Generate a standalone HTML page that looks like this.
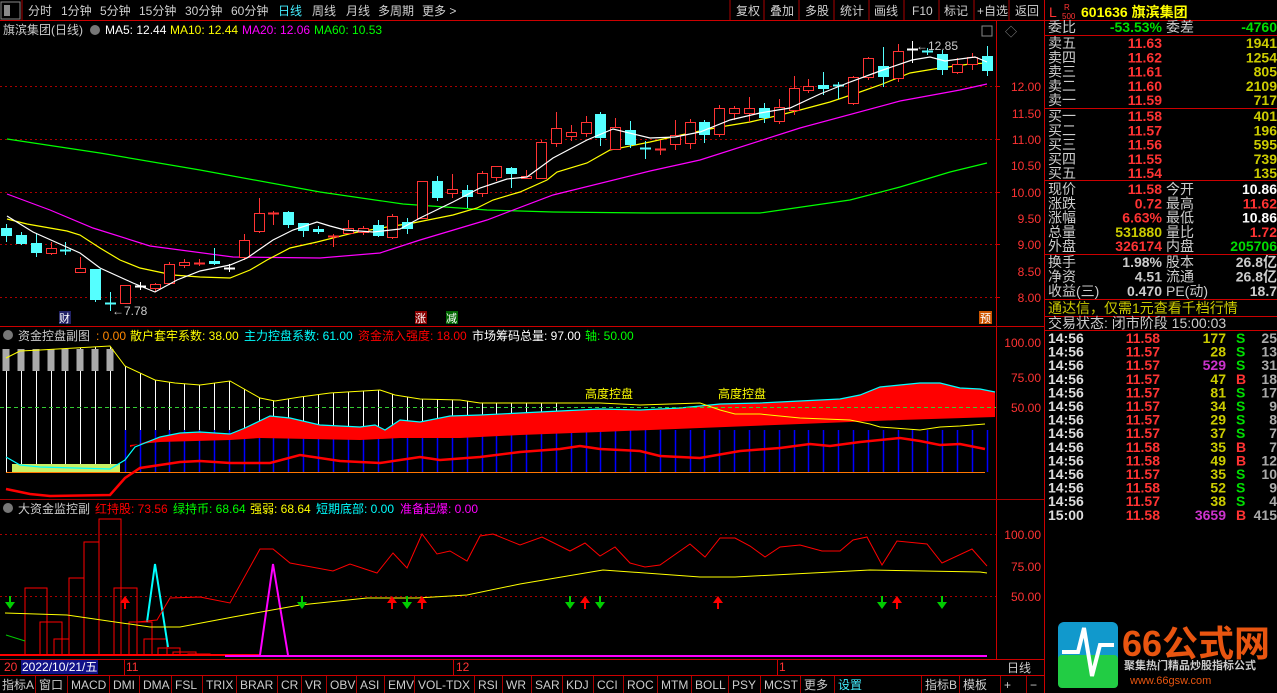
<!DOCTYPE html>
<html><head><meta charset="utf-8">
<style>
html,body{margin:0;padding:0;background:#000;width:1277px;height:693px;overflow:hidden}
svg{display:block;font-family:"Liberation Sans","Noto Sans CJK SC",sans-serif}
</style></head><body>
<svg id="s" width="1277" height="693" viewBox="0 0 1277 693" xmlns="http://www.w3.org/2000/svg">
<rect width="1277" height="693" fill="#000"/>
<g font-size="12" fill="#d0d0d0">
<rect x="1" y="2" width="19" height="17" fill="none" stroke="#888"/><rect x="4" y="5" width="6" height="11" fill="#888"/>
<line x1="22" y1="0" x2="22" y2="20" stroke="#a00"/>
<text x="28" y="15">分时</text><text x="61" y="15">1分钟</text><text x="100" y="15">5分钟</text><text x="139" y="15">15分钟</text><text x="185" y="15">30分钟</text><text x="231" y="15">60分钟</text><text x="278" y="15" fill="#4ef">日线</text><text x="312" y="15">周线</text><text x="346" y="15">月线</text><text x="378" y="15">多周期</text><text x="422" y="15">更多 &gt;</text>
<text x="736" y="15">复权</text><text x="770" y="15">叠加</text><text x="805" y="15">多股</text><text x="840" y="15">统计</text><text x="874" y="15">画线</text><text x="912" y="15">F10</text><text x="944" y="15">标记</text><text x="977" y="15">+自选</text><text x="1015" y="15">返回</text>
</g>
<g stroke="#a00"><line x1="730" y1="0" x2="730" y2="20"/><line x1="764" y1="0" x2="764" y2="20"/><line x1="799" y1="0" x2="799" y2="20"/><line x1="834" y1="0" x2="834" y2="20"/><line x1="869" y1="0" x2="869" y2="20"/><line x1="904" y1="0" x2="904" y2="20"/><line x1="939" y1="0" x2="939" y2="20"/><line x1="974" y1="0" x2="974" y2="20"/><line x1="1009" y1="0" x2="1009" y2="20"/></g>
<line x1="0" y1="20.5" x2="1044" y2="20.5" stroke="#c00"/>
<g font-size="12">
<text x="3" y="34" fill="#ccc">旗滨集团(日线)</text><circle cx="95" cy="30" r="5" fill="#777"/>
<text x="105" y="34" fill="#fff">MA5: 12.44</text><text x="170" y="34" fill="#ff0">MA10: 12.44</text><text x="242" y="34" fill="#f0f">MA20: 12.06</text><text x="314" y="34" fill="#0f0">MA60: 10.53</text>
</g>
<g stroke="#a00" stroke-dasharray="2,3"><line x1="0" y1="86.5" x2="996" y2="86.5"/><line x1="0" y1="139.5" x2="996" y2="139.5"/><line x1="0" y1="192.5" x2="996" y2="192.5"/><line x1="0" y1="244.5" x2="996" y2="244.5"/><line x1="0" y1="297.5" x2="996" y2="297.5"/></g>
<line x1="996.5" y1="20" x2="996.5" y2="660" stroke="#c00"/>
<line x1="1044.5" y1="0" x2="1044.5" y2="693" stroke="#c00"/>
<g font-size="12" fill="#f33" text-anchor="end">
<text x="1041" y="91">12.00</text><text x="1041" y="118">11.50</text><text x="1041" y="144">11.00</text><text x="1041" y="170">10.50</text><text x="1041" y="197">10.00</text><text x="1041" y="223">9.50</text><text x="1041" y="249">9.00</text><text x="1041" y="276">8.50</text><text x="1041" y="302">8.00</text>
<text x="1041" y="347">100.00</text><text x="1041" y="382">75.00</text><text x="1041" y="412">50.00</text>
<text x="1041" y="539">100.00</text><text x="1041" y="571">75.00</text><text x="1041" y="601">50.00</text>
</g>
<g stroke="#c00"><line x1="996" y1="86.5" x2="1000" y2="86.5"/><line x1="996" y1="139.5" x2="1000" y2="139.5"/><line x1="996" y1="192.5" x2="1000" y2="192.5"/><line x1="996" y1="244.5" x2="1000" y2="244.5"/><line x1="996" y1="297.5" x2="1000" y2="297.5"/></g>
<line x1="0" y1="326.5" x2="1044" y2="326.5" stroke="#c00"/>
<line x1="0" y1="499.5" x2="1044" y2="499.5" stroke="#a00"/>
<line x1="0" y1="659.5" x2="1044" y2="659.5" stroke="#c00"/>
<g fill="none" stroke-width="1.2">
<polyline stroke="#0f0" points="7,139 100,153 200,170 320,192 403,204 487,210 553,212 650,213 760,213 850,200 900,187 950,172 987,163"/>
<polyline stroke="#f0f" points="7,194 50,210 93,228 150,246 233,257 320,258 380,253 420,240 487,220 553,195 650,171 700,160 800,128 900,101 960,90 987,84"/>
<polyline stroke="#ff0" points="7,219 27,224 67,231 80,235 100,248 120,260 140,268 173,275 200,277 230,278 250,270 267,260 290,248 317,242 353,233 387,227 413,223 453,215 477,208 493,200 520,192 547,180 557,172 587,163 610,150 650,142 690,133 720,127 750,122 780,115 800,110 830,102 860,92 880,85 910,73 940,68 970,64 987,63"/>
</g>
<g id="cand"></g>
<polyline fill="none" stroke="#fff" stroke-width="1.2" points="7,216 33,232 80,253 100,268 133,283 155,292 177,280 200,271 230,265 247,258 273,240 293,230 317,222 330,226 345,230 373,232 400,229 420,218 453,202 480,188 507,179 527,177 553,158 587,140 613,129 650,138 675,137 700,132 730,120 760,113 790,108 820,94 850,82 880,71 912,60 930,57 945,61 975,57 987,62"/>
<g font-size="12">
<text x="112" y="315" fill="#ccc">←7.78</text><text x="916" y="50" fill="#ccc">←12.85</text>
<rect x="59" y="311" width="12" height="13" fill="#226"/><text x="59" y="322" fill="#fff" font-size="11">财</text>
<rect x="415" y="311" width="12" height="13" fill="#800"/><text x="415" y="322" fill="#fff" font-size="11">涨</text>
<rect x="446" y="311" width="12" height="13" fill="#060"/><text x="446" y="322" fill="#fff" font-size="11">减</text>
<rect x="979" y="311" width="13" height="13" fill="#c50"/><text x="980" y="322" fill="#fff" font-size="11">预</text>
<text x="1005" y="36" fill="#888">◇</text><rect x="982" y="26" width="10" height="10" fill="none" stroke="#888"/>
</g>
<g font-size="12">
<circle cx="8" cy="335" r="5" fill="#777"/><text x="18" y="340" fill="#ccc">资金控盘副图</text>
<text x="96" y="340" fill="#f80">: 0.00</text><text x="130" y="340" fill="#ff0">散户套牢系数: 38.00</text><text x="244" y="340" fill="#0ff">主力控盘系数: 61.00</text><text x="358" y="340" fill="#f00">资金流入强度: 18.00</text><text x="472" y="340" fill="#fff">市场筹码总量: 97.00</text><text x="585" y="340" fill="#0f0">轴: 50.00</text>
</g>
<g id="p2"></g>
<rect x="12" y="464" width="108" height="9" fill="#c8f064"/>
<polygon fill="#f00" points="130,447 160,437 180,433 200,432 230,434 245,428 270,416 290,418 320,425 360,427 375,425 385,430 400,420 420,422 450,416 480,415 520,413 560,411 600,409 640,410 680,408 700,406 720,404 760,403 800,401 840,399 860,395 880,387 900,385 920,383 940,383 960,388 980,389 995,392 995,417 900,420 800,424 700,428 600,432 520,435 460,438 400,438 360,440 260,438 230,440 160,442 130,445"/>
<polyline fill="none" stroke="#0ff" stroke-width="1.2" points="6,457 20,465 40,467 110,469 125,460 135,447 160,437 180,433 200,432 230,434 245,428 270,416 290,418 320,425 360,427 375,425 385,430 400,420 420,422 450,416 480,415 520,413 560,411 600,409 640,410 680,408 700,406 720,404 760,403 800,401 840,399 860,395 880,387 900,385 920,383 940,383 960,388 980,389 995,392"/>
<line x1="0" y1="407.5" x2="996" y2="407.5" stroke="#3c3" stroke-dasharray="4,3"/>
<polyline fill="none" stroke="#ff0" points="6,358 20,351 40,350 110,346 125,366 155,380 175,383 200,385 230,381 260,398 275,401 300,397 330,393 380,390 395,395 420,399 460,400 480,403 600,403 640,405 700,403 720,410 735,414 760,414 800,418 850,420 870,424 880,427 920,430 940,427 960,426 985,424"/>
<line x1="6" y1="472.5" x2="985" y2="472.5" stroke="#f70"/>
<polyline fill="none" stroke="#f00" stroke-width="2.5" points="6,489 30,494 50,496 110,495 125,478 140,468 180,462 200,461 230,463 270,463 300,455 340,461 380,463 400,460 420,457 440,460 480,457 520,452 560,449 580,446 600,449 640,451 660,456 700,458 740,451 780,448 810,444 830,446 860,442 900,438 920,441 940,445 960,444 985,449"/>
<text x="585" y="398" font-size="12" fill="#ff0">高度控盘</text><text x="718" y="398" font-size="12" fill="#ff0">高度控盘</text>
<g font-size="12">
<circle cx="8" cy="508" r="5" fill="#777"/><text x="18" y="513" fill="#ccc">大资金监控副</text>
<text x="95" y="513" fill="#f00">红持股: 73.56</text><text x="173" y="513" fill="#0f0">绿持币: 68.64</text><text x="250" y="513" fill="#ff0">强弱: 68.64</text><text x="316" y="513" fill="#0ff">短期底部: 0.00</text><text x="400" y="513" fill="#f0f">准备起爆: 0.00</text>
</g>
<g stroke="#a00" stroke-dasharray="2,3"><line x1="0" y1="534.5" x2="996" y2="534.5"/><line x1="0" y1="596.5" x2="996" y2="596.5"/></g>
<g fill="none" stroke="#f00">
<rect x="25" y="588" width="22" height="67"/><rect x="40" y="622" width="22" height="33"/><rect x="54" y="639" width="15" height="16"/><rect x="69" y="578" width="15" height="77"/><rect x="84" y="542" width="15" height="113"/><rect x="99" y="519" width="22" height="136"/><rect x="114" y="588" width="23" height="67"/><rect x="129" y="622" width="23" height="33"/><rect x="144" y="639" width="23" height="16"/><rect x="158" y="648" width="22" height="7"/><rect x="173" y="652" width="23" height="3"/><rect x="188" y="654" width="22" height="1"/>
</g>
<line x1="0" y1="655" x2="260" y2="655" stroke="#f00" stroke-width="2"/>
<line x1="225" y1="656" x2="987" y2="656" stroke="#f0f" stroke-width="2"/>
<polyline fill="none" stroke="#0ff" stroke-width="2" points="147,622 155,564 168,647"/>
<polyline fill="none" stroke="#f0f" stroke-width="2" points="260,655 273,564 288,655"/>
<polyline fill="none" stroke="#0c0" points="6,635 25,641"/>
<polyline fill="none" stroke="#ff0" points="5,613 67,615 150,627 180,627 233,617 300,605 367,598 417,598 467,595 520,584 603,570 700,577 735,577 870,570 980,572 987,573"/>
<polyline fill="none" stroke="#f00" points="137,622 157,620 170,598 200,597 230,603 260,549 273,549 290,563 333,571 350,564 377,573 393,553 407,568 422,534 437,554 450,551 467,561 480,536 493,534 520,545 542,537 570,551 585,543 600,556 615,547 630,563 645,567 660,565 690,544 705,557 720,538 735,538 750,546 765,557 780,547 800,545 822,551 840,551 853,540 867,537 882,565 897,541 927,544 942,563 972,549 987,566"/>
<g id="arr"></g>
<g font-size="12">
<text x="4" y="671" fill="#f33">20</text><rect x="21" y="660" width="77" height="14" fill="#118"/><text x="22" y="671" fill="#fff">2022/10/21/五</text>
<text x="126" y="671" fill="#f33">11</text><text x="456" y="671" fill="#f33">12</text><text x="779" y="671" fill="#f33">1</text><text x="1007" y="672" fill="#ccc">日线</text>
</g>
<g stroke="#c00"><line x1="124.5" y1="660" x2="124.5" y2="675"/><line x1="453.5" y1="660" x2="453.5" y2="675"/><line x1="777.5" y1="660" x2="777.5" y2="675"/></g>
<line x1="0" y1="675.5" x2="1044" y2="675.5" stroke="#c00"/>
<g font-size="12" fill="#ccc" id="tabs"></g>
<g font-size="14" font-weight="bold">
<text x="1049" y="17" fill="#f33" font-weight="normal">L</text><text x="1064" y="10" font-size="8" fill="#f33" font-weight="normal">R</text><text x="1062" y="19" font-size="8" fill="#f33" font-weight="normal">500</text>
<text x="1081" y="17" fill="#ff0" font-size="14">601636 旗滨集团</text>
</g>
<g stroke="#c00"><line x1="1045" y1="20.5" x2="1277" y2="20.5"/><line x1="1045" y1="35.5" x2="1277" y2="35.5"/><line x1="1045" y1="108.5" x2="1277" y2="108.5"/><line x1="1045" y1="180.5" x2="1277" y2="180.5"/><line x1="1045" y1="254.5" x2="1277" y2="254.5"/><line x1="1045" y1="299.5" x2="1277" y2="299.5"/><line x1="1045" y1="316.5" x2="1277" y2="316.5"/><line x1="1045" y1="330.5" x2="1277" y2="330.5"/></g>
<g id="rp" font-size="14"></g>
<rect x="1058" y="622" width="60" height="66" rx="6" fill="#19c"/><rect x="1058" y="655" width="60" height="33" rx="4" fill="#2c4"/>
<polyline points="1062,652 1078,652 1084,628 1092,676 1100,645 1114,645" fill="none" stroke="#fff" stroke-width="4"/>
<text x="1122" y="656" font-size="36" font-weight="bold" fill="#e85510">66公式网</text>
<text x="1124" y="669" font-size="11" fill="#ccc" font-weight="bold">聚集热门精品炒股指标公式</text>
<text x="1130" y="684" font-size="11" fill="#e85510">www.66gsw.com</text>
</svg>
<script>
const NS="http://www.w3.org/2000/svg";
function el(p,t,a,txt){const e=document.createElementNS(NS,t);for(const k in a)e.setAttribute(k,a[k]);if(txt!=null)e.textContent=txt;p.appendChild(e);return e;}
const D=[['c',228,236,224,242],['c',235,244,232,245],['c',243,253,233,257],['r',248,253,242,255],['cc',250,250,242,255],['r',268,272,257,273],['c',269,300,269,302],['cc',303,303,292,311],['r',285,303,285,303],['w',286,286,282,290],['r',284,288,283,292],['r',264,283,262,285],['r',262,265,259,268],['rc',263,263,259,266],['c',261,264,248,265],['w',268,268,264,272],['r',240,257,234,260],['r',213,231,198,233],['rc',213,213,211,225],['c',212,225,211,228],['c',223,231,223,237],['c',229,232,226,234],
['rc',236,236,234,247],['r',228,233,220,234],['r',228,232,226,235],['c',225,236,220,237],['r',216,237,214,239],['c',222,229,218,234],['r',181,218,181,219],['c',181,198,176,201],['r',189,193,174,198],['c',190,197,185,208],['r',173,193,171,197],['r',166,177,166,181],['c',168,174,167,188],['r',176,178,170,179],['r',142,178,140,179],['r',128,143,112,147],['r',132,136,125,141],['r',122,133,116,137],['c',114,138,112,146],['r',127,149,118,150],['c',130,145,121,148],['cc',148,148,141,159],
['rc',149,149,140,155],['r',135,144,120,150],['r',122,143,119,149],['c',122,135,120,143],['r',108,134,105,137],['r',108,113,106,120],['r',108,113,97,122],['c',108,118,103,123],['r',107,121,99,124],['r',88,110,76,115],['r',86,90,79,93],['c',85,89,72,95],['cc',85,85,82,99],['r',77,103,76,105],['r',58,77,57,80],['c',66,77,47,87],['r',51,78,44,82],['w',49,49,41,63],['cc',51,51,48,55],['c',54,70,50,75],['r',64,72,58,74],['r',57,64,53,70],['c',56,71,46,76]];
const g=document.getElementById('cand');
D.forEach(([t,a,b,h,l],i)=>{const x=Math.round(6+i*14.86);
 const col=(t=='r'||t=='rc')?'#f33':(t=='w'?'#fff':'#5ff');
 el(g,'line',{x1:x+.5,y1:h,x2:x+.5,y2:l,stroke:col});
 if(t=='r'){el(g,'rect',{x:x-4.5,y:a+.5,width:10,height:Math.max(1,b-a),fill:'#000',stroke:col});}
 else if(t=='c'){el(g,'rect',{x:x-5,y:a,width:11,height:Math.max(2,b-a),fill:col});}
 else {el(g,'line',{x1:x-5,y1:a+.5,x2:x+6,y2:a+.5,stroke:col,'stroke-width':2});}
});
const p2=document.getElementById('p2');
function yl(x){const pts=[[6,358],[20,351],[40,350],[110,346],[125,366],[155,380],[175,383],[200,385],[230,381],[260,398],[275,401],[300,397],[330,393],[380,390],[395,395],[420,399],[460,400],[480,403],[600,403],[640,405],[700,403],[987,403]];for(let i=1;i<pts.length;i++){if(x<=pts[i][0]){const[a,b]=pts[i-1],[c,d]=pts[i];return b+(d-b)*(x-a)/(c-a);}}return 403;}
for(let i=0;i<67;i++){const x=Math.round(6+i*14.86)+.5;
 if(x<125){el(p2,'line',{x1:x,y1:yl(x),x2:x,y2:472,stroke:'#fff'});if(x<115)el(p2,'rect',{x:x-4,y:349,width:7,height:22,fill:'#aaa'});}
 else{ if(x<560)el(p2,'line',{x1:x,y1:yl(x),x2:x,y2:440,stroke:'#fff'});
  el(p2,'line',{x1:x,y1:430,x2:x,y2:472,stroke:'#00f','stroke-width':1.5});}
}
const ar=document.getElementById('arr');
[10,302,407,570,600,882,942].forEach(x=>{el(ar,'line',{x1:x,y1:596,x2:x,y2:606,stroke:'#0c0','stroke-width':2});el(ar,'polygon',{points:`${x-5},602 ${x+5},602 ${x},609`,fill:'#0c0'});});
[125,392,422,585,718,897].forEach(x=>{el(ar,'line',{x1:x,y1:600,x2:x,y2:609,stroke:'#f00','stroke-width':2});el(ar,'polygon',{points:`${x-5},603 ${x+5},603 ${x},596`,fill:'#f00'});});
const tabs=document.getElementById('tabs');
[['指标A',2],['窗口',39],['MACD',71],['DMI',113],['DMA',143],['FSL',175],['TRIX',206],['BRAR',240],['CR',281],['VR',305],['OBV',330],['ASI',360],['EMV',388],['VOL-TDX',418],['RSI',478],['WR',506],['SAR',535],['KDJ',566],['CCI',597],['ROC',627],['MTM',661],['BOLL',695],['PSY',732],['MCST',764],['更多',804],['设置',838],['指标B',925],['模板',963],['+',1004],['−',1030]].forEach(([t,x])=>{
 const e=el(tabs,'text',{x:x,y:689},t);if(t=='设置')e.setAttribute('fill','#4ef');
 el(tabs,'line',{x1:x-3.5,y1:676,x2:x-3.5,y2:693,stroke:'#a00'});});
const rp=document.getElementById('rp');
function T(x,y,t,c,anchor,bold){const e=el(rp,'text',{x:x,y:y,fill:c},t);if(anchor)e.setAttribute('text-anchor','end');if(bold)e.setAttribute('font-weight','bold');return e;}
const LB='#ccc',R='#f33',Y='#cc0',W='#fff',G='#0d0';
T(1048,32,'委比',LB);T(1162,32,'-53.53%',G,1,1);T(1166,32,'委差',LB);T(1277,32,'-4760',G,1,1);
['卖五','卖四','卖三','卖二','卖一'].forEach((l,i)=>{const y=48+i*14.3;T(1048,y,l,LB);T(1162,y,['11.63','11.62','11.61','11.60','11.59'][i],R,1,1);T(1277,y,['1941','1254','805','2109','717'][i],Y,1,1);});
['买一','买二','买三','买四','买五'].forEach((l,i)=>{const y=121+i*14.3;T(1048,y,l,LB);T(1162,y,['11.58','11.57','11.56','11.55','11.54'][i],R,1,1);T(1277,y,['401','196','595','739','135'][i],Y,1,1);});
[['现价','11.58',R,'今开','10.86',W],['涨跌','0.72',R,'最高','11.62',R],['涨幅','6.63%',R,'最低','10.86',W],['总量','531880',Y,'量比','1.72',R],['外盘','326174',R,'内盘','205706',G]].forEach((r,i)=>{const y=194+i*14.3;T(1048,y,r[0],LB);T(1162,y,r[1],r[2],1,1);T(1166,y,r[3],LB);T(1277,y,r[4],r[5],1,1);});
[['换手','1.98%','股本','26.8亿'],['净资','4.51','流通','26.8亿'],['收益(三)','0.470','PE(动)','18.7']].forEach((r,i)=>{const y=267+i*14.5;T(1048,y,r[0],LB);T(1162,y,r[1],LB,1,1);T(1166,y,r[2],LB);T(1277,y,r[3],LB,1,1);});
T(1048,313,'通达信，仅需1元查看千档行情','#cc0');
T(1048,328,'交易状态: 闭市阶段 15:00:03',LB);
const ticks=[['11.58','177','S','25',Y],['11.57','28','S','13',Y],['11.57','529','S','31','#c3c'],['11.57','47','B','18',Y],['11.57','81','S','17',Y],['11.57','34','S','9',Y],['11.57','29','S','8',Y],['11.57','37','S','7',Y],['11.58','35','B','7',Y],['11.58','49','B','12',Y],['11.57','35','S','10',Y],['11.58','52','S','9',Y],['11.57','38','S','4',Y],['11.58','3659','B','415','#c3c']];
ticks.forEach((t,i)=>{const y=343+i*13.6;T(1048,y,i==13?'15:00':'14:56','#ddd',0,1);T(1160,y,t[0],R,1,1);T(1226,y,t[1],t[4],1,1);T(1236,y,t[2],t[2]=='S'?G:R,0,1);T(1277,y,t[3],'#aaa',1,1);});
</script>
</body></html>
